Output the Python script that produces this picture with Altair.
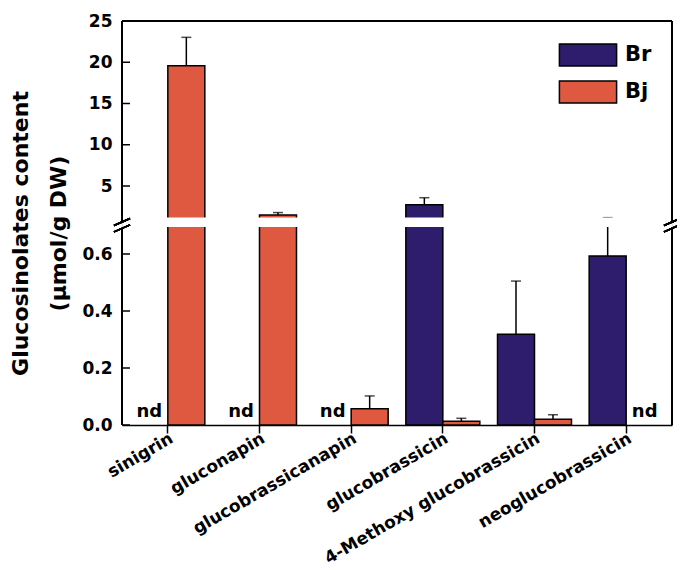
import altair as alt
import pandas as pd

categories = ["sinigrin", "gluconapin", "glucobrassicanapin", "glucobrassicin",
              "4-Methoxy glucobrassicin", "neoglucobrassicin"]
series_names = ["Br", "Bj"]
br_values = [None, None, None, 2.73, 0.318, 0.593]
br_errors = [None, None, None, 0.85, 0.187, 0.57]
bj_values = [19.58, 1.48, 0.057, 0.013, 0.02, None]
bj_errors = [3.44, 0.3, 0.045, 0.0105, 0.016, None]
colors = ["#2E1D6C", "#DF5840"]
y_ticks = [0, 0.2, 0.4, 0.6, 5, 10, 15, 20, 25]
break_lo = 0.7
break_hi = 1.0

rows = []
nd_rows = []
for s, vals, errs in [("Br", br_values, br_errors), ("Bj", bj_values, bj_errors)]:
    for c, v, e in zip(categories, vals, errs):
        if v is None:
            nd_rows.append({"category": c, "series": s, "label": "nd"})
        else:
            rows.append({"category": c, "series": s, "value": v, "upper": v + e})
df = pd.DataFrame(rows)
nd_df = pd.DataFrame(nd_rows)
ticks_df = pd.DataFrame({"t": y_ticks})

W, H = 550, 404
FONT = "DejaVu Sans"

yscale = alt.Scale(domain=[0, break_lo, break_hi, 25], range=[H, 204.5, 198, 0],
                   nice=False, zero=False)

x_enc = alt.X("category:N", sort=categories,
              scale=alt.Scale(domain=categories, paddingInner=0, paddingOuter=0),
              axis=alt.Axis(title=None, labelAngle=-30, labelAlign="right",
                            labelBaseline="top", labelFontSize=17, labelFont=FONT,
                            labelFontWeight="bold", labelColor="black",
                            tickSize=8, tickWidth=1.5, tickColor="black",
                            domainColor="black", domainWidth=1.5,
                            labelPadding=-3, labelLimit=400))
xoff_enc = alt.XOffset("series:N", sort=series_names,
                       scale=alt.Scale(domain=series_names, paddingInner=0,
                                       paddingOuter=0.239))

bars = alt.Chart(df).mark_bar(stroke="black", strokeWidth=1.5).encode(
    x=x_enc, xOffset=xoff_enc,
    y=alt.Y("value:Q", scale=yscale,
            axis=alt.Axis(values=y_ticks, title=["Glucosinolates content", "(μmol/g DW)"],
                          labelExpr="datum.value < 1 ? format(datum.value, '.1f') : format(datum.value, 'd')",
                          domain=False, ticks=False, tickSize=0, grid=False,
                          labelFont=FONT, labelFontSize=17, labelFontWeight="bold",
                          labelColor="black", labelPadding=10,
                          titleFont=FONT, titleFontSize=22, titleFontWeight="bold",
                          titleColor="black", titleLineHeight=38, titleAngle=-90,
                          titleAlign="center", titleBaseline="alphabetic",
                          titleX=-95, titleY=212)),
    color=alt.Color("series:N", scale=alt.Scale(domain=series_names, range=colors),
                    legend=alt.Legend(title=None, orient="none", legendX=454, legendY=22,
                                      symbolType="M-2.6,-1H2.6V1H-2.6Z", symbolSize=484,
                                      symbolStrokeColor="black", symbolStrokeWidth=1.5,
                                      symbolOpacity=1, labelFont=FONT, labelFontSize=21,
                                      labelFontWeight="bold", labelColor="black",
                                      labelOffset=25, rowPadding=9, padding=0)),
)

err_rule = alt.Chart(df).mark_rule(color="black", strokeWidth=1.5).encode(
    x=x_enc, xOffset=xoff_enc, y=alt.Y("value:Q", scale=yscale), y2="upper:Q")
err_cap = alt.Chart(df).mark_tick(color="black", thickness=1.5, size=10).encode(
    x=x_enc, xOffset=xoff_enc, y=alt.Y("upper:Q", scale=yscale))

gap = alt.Chart(df).transform_filter(f"datum.upper > {break_lo}").mark_bar(
    color="white", stroke="white", strokeWidth=3).encode(
    x=x_enc, xOffset=xoff_enc, y=alt.datum(break_lo), y2=alt.datum(break_hi))

nd_text = alt.Chart(nd_df).mark_text(font=FONT, fontSize=18, fontWeight="bold",
                                     color="black", baseline="alphabetic", dy=-8).encode(
    x=x_enc, xOffset=xoff_enc, y=alt.datum(0), text="label:N")

inner_ticks = alt.Chart(ticks_df).mark_rule(color="black", strokeWidth=1.5).encode(
    y=alt.Y("t:Q", scale=yscale), x=alt.value(0), x2=alt.value(8))

frame_parts = []
for xv in [0, W]:
    frame_parts.append(alt.Chart(ticks_df).mark_rule(color="black", strokeWidth=1.5).encode(
        x=alt.value(xv), y=alt.datum(0), y2=alt.datum(0.69)))
    frame_parts.append(alt.Chart(ticks_df).mark_rule(color="black", strokeWidth=1.5).encode(
        x=alt.value(xv), y=alt.datum(0.86), y2=alt.datum(25)))
    for yb in [0.69, 0.86]:
        frame_parts.append(alt.Chart(ticks_df).mark_rule(
            color="black", strokeWidth=1.5, yOffset=3.5, y2Offset=-3.5).encode(
            x=alt.value(xv - 8), x2=alt.value(xv + 8), y=alt.datum(yb), y2=alt.datum(yb)))
frame_parts.append(alt.Chart(ticks_df).mark_rule(color="black", strokeWidth=1.5).encode(
    x=alt.value(0), x2=alt.value(W), y=alt.datum(25)))

chart = alt.layer(bars, err_rule, err_cap, gap, nd_text, inner_ticks, *frame_parts).properties(
    width=W, height=H,
    autosize=alt.AutoSizeParams(type="none"),
    padding={"left": 114, "top": 13, "right": 5, "bottom": 146},
).configure_view(stroke=None).configure(background="white")

chart.save("out.html", embed_options={"renderer": "svg", "actions": False})
